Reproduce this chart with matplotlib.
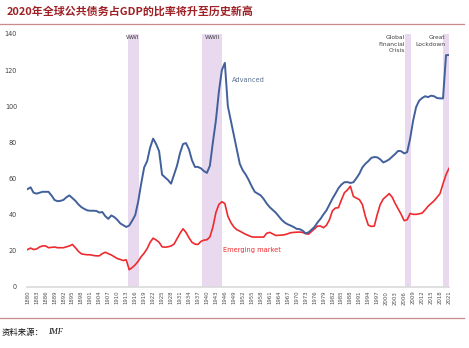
import numpy as np
import matplotlib
matplotlib.use("Agg")
import matplotlib.pyplot as plt

plt.rcParams['font.family'] = ['Noto Sans CJK SC', 'DejaVu Sans']

# Public debt (% of GDP), 1880-2021
years = list(range(1880, 2022))

advanced = [
    54, 55, 52, 51.5, 52, 52.5, 52.5, 52.5, 50.5, 48,              # 1880-1889
    47.3, 47.5, 48, 49.5, 50.5, 49, 47.5, 45.5, 44, 43,            # 1890-1899
    42.2, 42, 42, 41.9, 41, 41.3, 39, 37.5, 39.4, 38.5,            # 1900-1909
    37, 35, 34, 33, 33.8, 36.5, 39.5, 47, 57, 66,                  # 1910-1919
    69.5, 77, 82, 79, 75, 62, 60.5, 59, 57, 62,                    # 1920-1929
    67, 74, 79, 79.5, 76, 70, 66.3, 66.3, 65.5, 64,                # 1930-1939
    63, 67, 80, 92, 108, 120, 124, 100, 92, 84,                    # 1940-1949
    76, 68, 64.4, 62, 59, 55.5, 52.5, 51.5, 50.5, 48.5,            # 1950-1959
    46, 44, 42.5, 41, 39, 37, 35.5, 34.5, 33.8, 33,                # 1960-1969
    32, 31.8, 31, 29.5, 30, 31.5, 33, 35.5, 37.5, 40,              # 1970-1979
    42.2, 45.5, 48.7, 51.5, 54.5, 56.5, 57.8, 57.9, 57.4, 57.8,    # 1980-1989
    60, 62.5, 66, 68, 69.5, 71.3, 71.8, 71.6, 70.5, 68.8,          # 1990-1999
    69.5, 70.5, 72, 73.5, 75.2, 75, 73.8, 74.5, 82, 92,            # 2000-2009
    99.5, 103, 104.5, 105.5, 105, 105.8, 105.5, 104.5, 104.3, 104.3,  # 2010-2019
    128.3, 128.3,                                                  # 2020-2021
]

emerging = [
    20.5, 21.3, 20.5, 20.8, 21.9, 22.5, 22.5, 21.5, 21.7, 21.9,    # 1880-1889
    21.5, 21.5, 21.5, 22, 22.5, 23.3, 21.5, 19.5, 18.1, 17.8,      # 1890-1899
    17.6, 17.6, 17.2, 17, 17, 18.2, 19, 18.2, 17.5, 16.5,          # 1900-1909
    15.5, 15, 14.4, 14.8, 9.3, 10.5, 12, 14, 16.5, 18.5,           # 1910-1919
    21, 24.5, 26.8, 25.8, 24.5, 22, 21.8, 22, 22.5, 23.5,          # 1920-1929
    26.5, 29.5, 32, 30, 27, 24.5, 23.5, 23.3, 25, 25.7,            # 1930-1939
    25.9, 27.5, 33, 41, 45.5, 47, 46, 39, 35.5, 33,                # 1940-1949
    31.5, 30.7, 29.8, 28.9, 28.2, 27.5, 27.4, 27.4, 27.4, 27.4,    # 1950-1959
    29.5, 30, 29.2, 28.3, 28.4, 28.5, 28.7, 29.2, 29.8, 30,        # 1960-1969
    30.1, 30.2, 30, 29.3, 29, 30.5, 32, 33.5, 33.5, 32.6,          # 1970-1979
    34, 37, 42, 43.5, 43.7, 48, 52, 53.5, 55.6, 50,                # 1980-1989
    49, 48.2, 45.5, 39, 34, 33.3, 33.5, 40, 45.5, 48.5,            # 1990-1999
    50, 51.5, 49.5, 46, 43, 40, 36.5, 37, 40.5, 40,                # 2000-2009
    40, 40.3, 40.7, 42.5, 44.5, 46, 47.5, 49.5, 51.5, 57,          # 2010-2019
    62, 65.5,                                                      # 2020-2021
]

# shaded episodes: (start, end, label)
episodes = [
    (1913.5, 1917.3, "WWI"),
    (1938.4, 1945.1, "WWII"),
    (2006.3, 2008.2, "Global\nFinancial\nCrisis"),
    (2019.1, 2021.0, "Great\nLockdown"),
]

tick_years = list(range(1880, 2022, 3))
y_ticks = list(range(0, 141, 20))

title = "2020年全球公共债务占GDP的比率将升至历史新高"

W, H = 469, 348
fig = plt.figure(figsize=(W / 100, H / 100), dpi=100)
fig.patch.set_facecolor("white")

left, right, top, bottom = 26.7, 449.0, 34.0, 286.5
ax = fig.add_axes([left / W, 1 - bottom / H, (right - left) / W, (bottom - top) / H])

shade = "#e8d9ef"
for x0, x1, lab in episodes:
    ax.axvspan(x0, x1, color=shade, lw=0, zorder=0)

ax.plot(years, advanced, color="#42609b", lw=1.4, zorder=3, solid_joinstyle="round")
ax.plot(years, emerging, color="#ee2a2e", lw=1.2, zorder=2, solid_joinstyle="round")

ax.set_xlim(1879.7, 2021.0)
ax.set_ylim(0, 140)

# episode labels
txt = dict(fontsize=4.3, color="#404040", family=["DejaVu Sans"])
ax.text(np.mean(episodes[0][:2]) - 0.2, 138.3, "WWI", ha="center", va="center", **txt)
ax.text(np.mean(episodes[1][:2]), 138.3, "WWII", ha="center", va="center", **txt)
ax.text(episodes[2][0] - 0.1, 139.2, episodes[2][2], ha="right", va="top",
        linespacing=1.3, **txt)
ax.text(episodes[3][1] - 1.3, 139.2, episodes[3][2], ha="right", va="top",
        linespacing=1.3, **txt)

ax.text(1948.5, 114.5, "Advanced", fontsize=4.8, color="#5d7390",
        ha="left", va="center", family=["DejaVu Sans"])
ax.text(1945.5, 20.5, "Emerging market", fontsize=4.8, color="#ee2a2e",
        ha="left", va="center", family=["DejaVu Sans"])

ax.set_xticks(tick_years)
ax.set_xticklabels([str(y) for y in tick_years], rotation=90, fontsize=3.9,
                   color="#505050", family="DejaVu Sans")
ax.set_yticks(y_ticks)
ax.set_yticklabels([str(v) for v in y_ticks], fontsize=4.7, color="#404040",
                   family="DejaVu Sans")
ax.tick_params(axis="x", length=0, pad=3)
ax.tick_params(axis="y", length=0, pad=7)

for s in ["top", "right", "left"]:
    ax.spines[s].set_visible(False)
ax.spines["bottom"].set_color("#d9d9d9")
ax.spines["bottom"].set_linewidth(1.2)

# title, rules and source
fig.text(7 / W, 1 - 11 / H, title, fontsize=7.9, fontweight="bold",
         color="#9e1f24", ha="left", va="center")
rule = "#c98a8c"
fig.add_artist(plt.Line2D([0, 464 / W], [1 - 23.5 / H] * 2, color=rule, lw=0.9))
fig.add_artist(plt.Line2D([0, 464 / W], [1 - 317.5 / H] * 2, color=rule, lw=0.9))
fig.text(2 / W, 1 - 332 / H, "资料来源：", fontsize=6.0, color="#111111",
         ha="left", va="center")
fig.text(48 / W, 1 - 332 / H, "IMF", fontsize=6.0, color="#111111",
         ha="left", va="center", style="italic", family="Liberation Serif")

fig.savefig("out.png", dpi=100)
